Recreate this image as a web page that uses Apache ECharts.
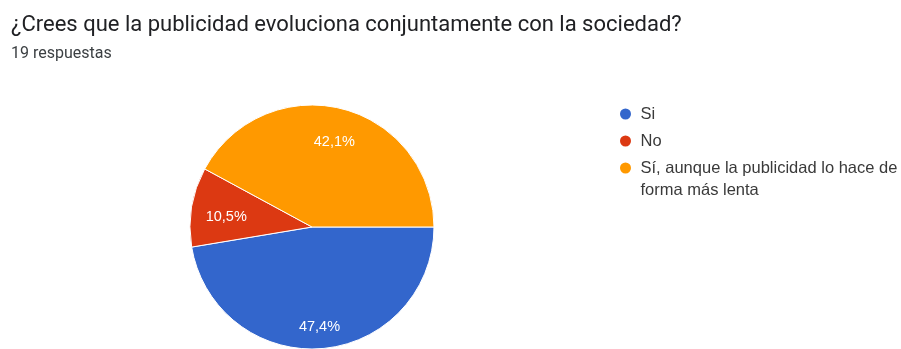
<!DOCTYPE html>
<html>
<head>
<meta charset="utf-8">
<script src="https://cdn.jsdelivr.net/npm/echarts@6/dist/echarts.min.js"></script>
<style>
  html, body { margin: 0; padding: 0; background: #fff; }
  #chart { width: 901px; height: 349px; }
</style>
</head>
<body>
<div id="chart"></div>
<script>
// Survey question and response count
const questionTitle = '¿Crees que la publicidad evoluciona conjuntamente con la sociedad?';
const responseCount = '19 respuestas';

// Answer options and number of answers for each
const answers = ['Si', 'No', 'Sí, aunque la publicidad lo hace de forma más lenta'];
const counts = [9, 2, 8];
const sliceColors = ['#3366cc', '#dc3912', '#ff9900'];

// Legend text; each entry is three lines tall with the first text line in the
// middle, so every marker sits beside the first line of its label
const legendLines = [
  '\nSi\n',
  '\nNo\n',
  '\nSí, aunque la publicidad lo hace de\nforma más lenta'
];

// Fine offsets for the percentage labels inside each slice
const labelShift = [[0, 9], [4, 5], [0, 3]];

const total = counts.reduce((a, b) => a + b, 0);
const pct = v => (v / total * 100).toFixed(1).replace('.', ',') + '%';

const pieData = answers.map((name, i) => ({
  name: name,
  value: counts[i],
  itemStyle: { color: sliceColors[i] }
}));

const labelData = answers.map((name, i) => ({ name: name, value: counts[i] }));

const chart = echarts.init(document.getElementById('chart'), null, { renderer: 'canvas' });

chart.setOption({
  animation: false,
  backgroundColor: '#ffffff',
  title: {
    text: questionTitle,
    subtext: responseCount,
    left: 6,
    top: 9,
    itemGap: 10,
    textStyle: {
      fontFamily: 'Roboto',
      fontSize: 22,
      fontWeight: 'normal',
      color: '#202124'
    },
    subtextStyle: {
      fontFamily: 'Roboto',
      fontSize: 16,
      color: '#3c4043'
    }
  },
  legend: {
    orient: 'vertical',
    left: 618,
    top: 81,
    padding: 0,
    itemGap: -39,
    itemWidth: 20,
    itemHeight: 13,
    icon: 'circle',
    selectedMode: false,
    formatter: name => legendLines[answers.indexOf(name)],
    textStyle: {
      fontFamily: 'Liberation Sans, Arial, sans-serif',
      fontSize: 16.5,
      lineHeight: 22,
      color: '#3a3a3a'
    },
    data: answers.map((name, i) => ({
      name: name,
      itemStyle: { color: sliceColors[i] }
    }))
  },
  series: [
    {
      type: 'pie',
      center: [312, 227],
      radius: [0, 122],
      startAngle: 0,
      clockwise: true,
      silent: true,
      label: { show: false },
      labelLine: { show: false },
      itemStyle: { borderColor: '#ffffff', borderWidth: 1 },
      data: pieData
    },
    {
      // transparent disc used only to place the percentage labels
      type: 'pie',
      center: [312, 227],
      radius: [0, 176],
      startAngle: 0,
      clockwise: true,
      silent: true,
      itemStyle: { color: 'rgba(0,0,0,0)' },
      labelLine: { show: false },
      label: {
        show: true,
        position: 'inside',
        fontFamily: 'Liberation Sans, Arial, sans-serif',
        fontSize: 14.5,
        color: '#ffffff',
        formatter: p => pct(p.value)
      },
      labelLayout: p => ({ dx: labelShift[p.dataIndex][0], dy: labelShift[p.dataIndex][1] }),
      data: labelData
    }
  ]
});
</script>
</body>
</html>
